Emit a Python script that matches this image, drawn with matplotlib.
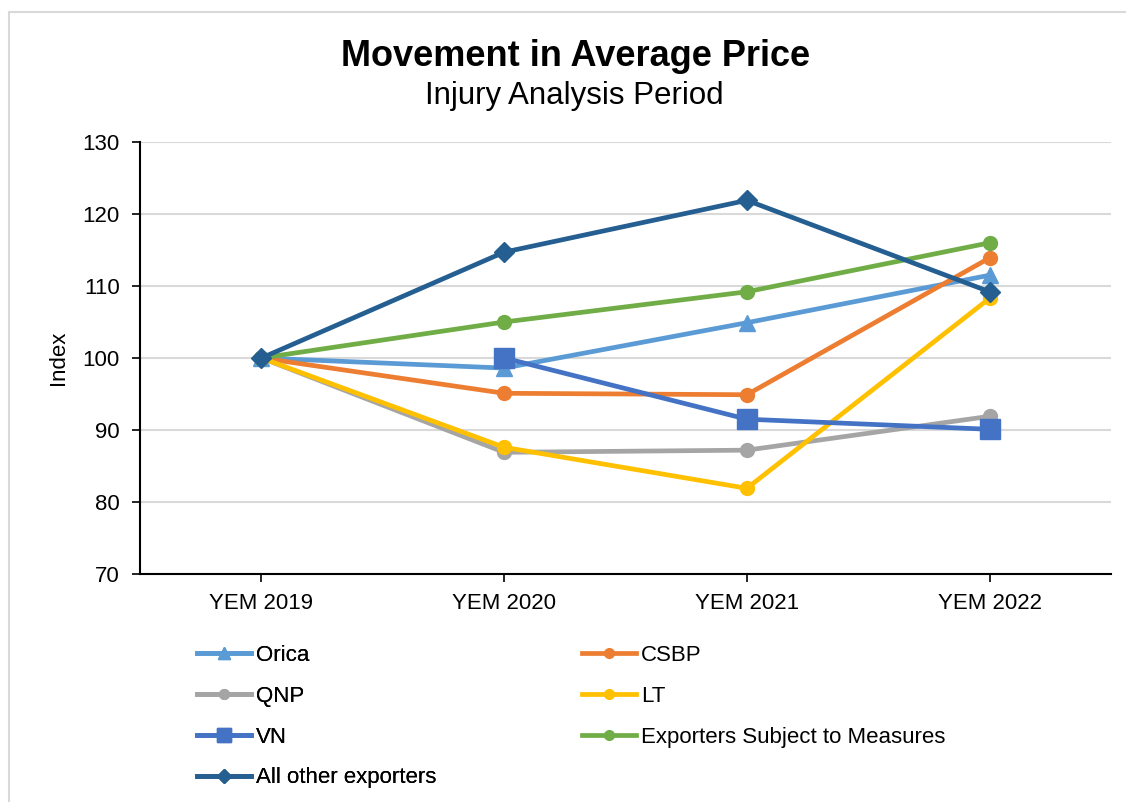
import matplotlib
matplotlib.use("Agg")
import matplotlib.pyplot as plt
from matplotlib.patches import Rectangle

plt.rcParams['font.family'] = ['Liberation Sans', 'DejaVu Sans']

categories = ["YEM 2019", "YEM 2020", "YEM 2021", "YEM 2022"]
orica = [100, 98.6, 104.9, 111.5]
csbp = [100, 95.1, 94.9, 113.9]
qnp = [100, 86.9, 87.2, 91.9]
lt = [100, 87.6, 81.9, 108.3]
vn = [None, 100, 91.5, 90.1]
esm = [100, 105.0, 109.2, 116.0]
others = [100, 114.7, 121.9, 109.2]

series = [
    ("Orica", orica, "#5B9BD5", "^", 12),
    ("CSBP", csbp, "#ED7D31", "o", 10),
    ("QNP", qnp, "#A5A5A5", "o", 10),
    ("LT", lt, "#FFC000", "o", 10),
    ("VN", vn, "#4472C4", "s", 14),
    ("Exporters Subject to Measures", esm, "#70AD47", "o", 10),
    ("All other exporters", others, "#255E91", "D", 10),
]

fig = plt.figure(figsize=(11.26, 8.02), dpi=100)
W, H = 1126, 802
ax = fig.add_axes([140 / W, 1 - 574 / H, (1111 - 140) / W, (574 - 142) / H])

# outer chart border
fig.patches.append(Rectangle((9 / W, -0.05), 1.2, 1 - 12 / H + 0.05, transform=fig.transFigure,
                             fill=False, edgecolor="#D9D9D9", linewidth=1.5))

x = list(range(len(categories)))
handles = {}
for name, vals, color, marker, ms in series:
    xs = [xi for xi, v in zip(x, vals) if v is not None]
    ys = [v for v in vals if v is not None]
    ln, = ax.plot(xs, ys, color=color, linewidth=3.4, marker=marker, markersize=ms,
                  markerfacecolor=color, markeredgecolor=color, label=name, zorder=3)
    handles[name] = ln

ax.set_xlim(-0.5, 3.5)
ax.set_ylim(70, 130)
ax.set_yticks(range(70, 131, 10))
ax.set_xticks(x)
ax.set_xticklabels(categories)
ax.yaxis.grid(True, color="#D9D9D9", linewidth=1.5)
ax.set_axisbelow(True)
for s in ["top", "right"]:
    ax.spines[s].set_visible(False)
for s in ["left", "bottom"]:
    ax.spines[s].set_color("black")
    ax.spines[s].set_linewidth(1.5)
ax.tick_params(axis="both", labelsize=16, color="black", width=1.2, length=5.5, direction="out")
ax.tick_params(axis="y", pad=9)
ax.tick_params(axis="x", pad=8)
ax.set_ylabel("Index", fontsize=16)
ax.yaxis.set_label_coords((69 - 140) / 971, 0.5)

fig.text(576 / W, 1 - 57 / H, "Movement in Average Price", ha="center", va="center",
         fontsize=26, fontweight="bold")
fig.text(574 / W, 1 - 96 / H, "Injury Analysis Period", ha="center", va="center", fontsize=22.5)

col1 = ["Orica", "QNP", "VN", "All other exporters"]
col2 = ["CSBP", "LT", "Exporters Subject to Measures"]
common = dict(frameon=False, fontsize=16, handlelength=2.45, handletextpad=0.2,
              labelspacing=0.89, borderaxespad=0, borderpad=0, markerscale=0.7)
leg1 = fig.legend([handles[n] for n in col1], col1, loc="upper left",
                  bbox_to_anchor=(197 / W, 1 - 645 / H), **common)
fig.add_artist(leg1)
leg2 = fig.legend([handles[n] for n in col2], col2, loc="upper left",
                  bbox_to_anchor=(582 / W, 1 - 645 / H), **common)

fig.savefig("out.png", dpi=100)
